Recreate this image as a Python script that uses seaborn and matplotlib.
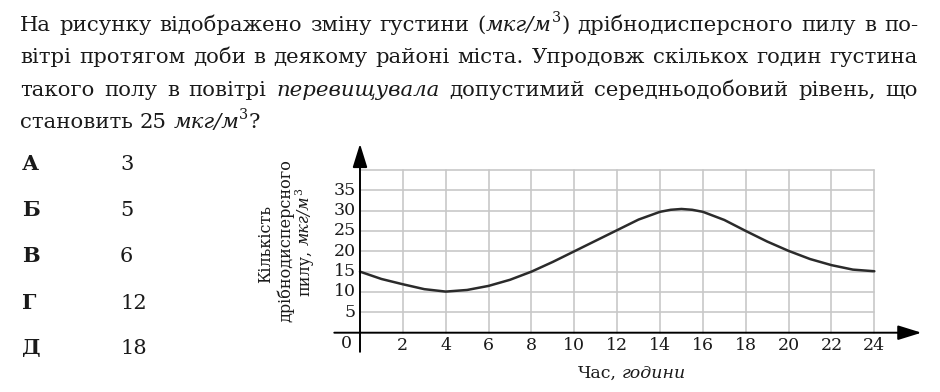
import matplotlib
matplotlib.use("Agg")
import matplotlib.pyplot as plt
import seaborn as sns
import pandas as pd

# ---------------- data ----------------
hours = [0, 1, 2, 3, 4, 5, 6, 7, 8, 9, 10, 11, 12, 13, 14, 14.5, 15, 15.5, 16,
         17, 18, 19, 20, 21, 22, 23, 24]
density = [15.0, 13.2, 11.9, 10.7, 10.1, 10.5, 11.5, 13.0, 15.0, 17.4, 20.0, 22.6,
           25.2, 27.8, 29.7, 30.2, 30.4, 30.2, 29.7, 27.7, 25.0, 22.4, 20.1, 18.1,
           16.6, 15.5, 15.1]
x_ticks = [2, 4, 6, 8, 10, 12, 14, 16, 18, 20, 22, 24]
y_ticks = [5, 10, 15, 20, 25, 30, 35]
grid_top = 40
option_letters = ["А", "Б", "В", "Г", "Д"]
option_values = ["3", "5", "6", "12", "18"]

W, H, DPI = 940, 392, 100
TXT = "#1a1a1a"

sns.set_theme(style="white")
plt.rcParams["font.family"] = ["DejaVu Serif", "DejaVu Sans"]

fig = plt.figure(figsize=(W / DPI, H / DPI), dpi=DPI)
renderer = fig.canvas.get_renderer()


def fpos(x, y):
    return x / W, 1 - y / H


def space_width(size):
    a = fig.text(0, 0, "н н", fontsize=size)
    b = fig.text(0, 0, "нн", fontsize=size)
    w = a.get_window_extent(renderer).width - b.get_window_extent(renderer).width
    a.remove(); b.remove()
    return w


def make_line(words, x0, y0, size, justify=None, center=False, vertical=False):
    sp = space_width(size)
    word_items = []
    widths = []
    for word in words:
        off = 0
        items = []
        for s, opt in word:
            fs = size * opt.get("scale", 1.0)
            t = fig.text(0, 0, s, fontsize=fs, fontstyle=opt.get("style", "normal"),
                         fontweight=opt.get("weight", "normal"), color=TXT,
                         ha="left", va="baseline")
            w = t.get_window_extent(renderer).width
            rise = opt.get("rise", 0) * size * DPI / 72
            items.append((t, off, rise))
            off += w
        word_items.append(items)
        widths.append(off)
    n = len(words)
    if justify is not None and n > 1:
        gap = (justify - sum(widths)) / (n - 1)
    else:
        gap = sp
    total = sum(widths) + gap * (n - 1)
    start = -total / 2 if center else 0
    cur = start
    for items, w in zip(word_items, widths):
        for t, off, rise in items:
            if vertical:
                t.set_position(fpos(x0 - rise, y0 - (cur + off)))
                t.set_rotation(90)
                t.set_rotation_mode("anchor")
            else:
                t.set_position(fpos(x0 + cur + off, y0 - rise))
        cur += w + gap


N = {}
I = {"style": "italic"}
SUP = {"scale": 0.68, "rise": 0.42}


def plain(text):
    return [[(w, N)] for w in text.split()]


def ital(text):
    return [[(w, I)] for w in text.split()]


# ---------------- question text ----------------
TS = 15.3
line1 = plain("На рисунку відображено зміну густини") + \
    [[("(", N), ("мкг/м", I), ("3", SUP), (")", N)]] + plain("дрібнодисперсного пилу в по-")
line2 = plain("вітрі протягом доби в деякому районі міста. Упродовж скількох годин густина")
line3 = plain("такого полу в повітрі") + ital("перевищувала") + \
    plain("допустимий середньодобовий рівень, що")
line4 = plain("становить 25") + [[("мкг/м", I), ("3", SUP), ("?", N)]]

make_line(line1, 20, 30.7, TS, justify=898)
make_line(line2, 20, 63.2, TS, justify=898)
make_line(line3, 20, 95.7, TS, justify=898)
make_line(line4, 20, 128.2, TS)

# ---------------- answer options ----------------
opt_base = [170, 216, 262, 309, 354]
for letter, val, yb in zip(option_letters, option_values, opt_base):
    fig.text(*fpos(22, yb), letter, fontsize=15, fontweight="bold", color=TXT,
             ha="left", va="baseline")
    fig.text(*fpos(120, yb), val, fontsize=15, color=TXT, ha="left", va="baseline")

# ---------------- chart ----------------
x_px0, x_scale = 360.0, 21.43       # pixel of hour 0, px per hour
y_px0, y_scale = 332.7, 4.07        # pixel of value 0, px per unit
xlim = (-1.3, 26.3)
ylim = (-5.0, 46.5)
left = x_px0 + xlim[0] * x_scale
right = x_px0 + xlim[1] * x_scale
bottom = y_px0 - ylim[0] * y_scale
top = y_px0 - ylim[1] * y_scale
ax = fig.add_axes([left / W, 1 - bottom / H, (right - left) / W, (bottom - top) / H])
ax.set_xlim(*xlim)
ax.set_ylim(*ylim)
ax.set_axis_off()

GRID = "#c8c8c8"
for h in x_ticks:
    ax.plot([h, h], [0, grid_top], color=GRID, lw=1.2, zorder=1)
for v in y_ticks + [grid_top]:
    ax.plot([0, x_ticks[-1]], [v, v], color=GRID, lw=1.2, zorder=1)

df = pd.DataFrame({"hour": hours, "density": density})
sns.lineplot(data=df, x="hour", y="density", ax=ax, color="#2b2b2b", lw=1.8, zorder=3)

arrow = dict(arrowstyle="-|>,head_length=0.9,head_width=0.28", color="black",
             lw=1.4, mutation_scale=16, shrinkA=0, shrinkB=0)
ax.annotate("", xy=(26.2, 0), xytext=(-1.2, 0), arrowprops=arrow, zorder=4)
ax.annotate("", xy=(0, 46.4), xytext=(0, -4.7), arrowprops=arrow, zorder=4)

TK = 12.5
for h in x_ticks:
    ax.text(h, -3.1, str(h), fontsize=TK, color=TXT, ha="center", va="center")
for v in y_ticks:
    ax.text(-0.2, v, str(v), fontsize=TK, color=TXT, ha="right", va="center")
ax.text(-0.62, -2.7, "0", fontsize=TK, color=TXT, ha="center", va="center")

# axis titles
LS = 11.5
make_line(plain("Кількість"), 270, 244, LS, center=True, vertical=True)
make_line(plain("дрібнодисперсного"), 290, 241, LS, center=True, vertical=True)
make_line(plain("пилу,") + [[("мкг/м", I), ("3", SUP)]], 309, 242, LS,
          center=True, vertical=True)
make_line(plain("Час,") + ital("години"), 632, 378, 12.5, center=True)

fig.savefig("out.png", dpi=DPI)
